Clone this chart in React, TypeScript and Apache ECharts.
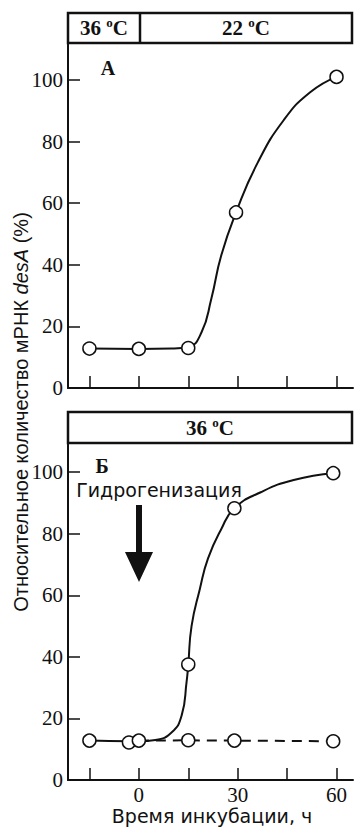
import React, { useEffect, useRef } from "react";
import * as echarts from "echarts";

// Tick values
const xTicks = [-15, 0, 15, 30, 45, 60];
const xLabelsBottom = [0, 30, 60];
const yTicks = [0, 20, 40, 60, 80, 100];

// Panel A (top): measured points and drawn curve
const topMarkX = [-15, 0, 15, 29.5, 60];
const topMarkY = [12.8, 12.7, 13, 57, 101];
const topCurveX = [-15, 0, 10, 15, 19, 22, 25, 29.5, 36, 44, 52, 60];
const topCurveY = [12.8, 12.7, 12.8, 13.3, 18, 29, 43, 57, 73, 87, 96, 101];

// Panel Б (bottom): solid series (hydrogenation) points and drawn curve
const botMarkX = [-15, -3, 0, 15, 29, 59];
const botMarkY = [12.8, 12.2, 12.8, 37.5, 88.3, 99.7];
const botCurveX = [-15, -3, 0, 5, 10, 13, 14.5, 15, 16, 18.5, 21, 25, 29, 37, 47, 59];
const botCurveY = [12.8, 12.6, 12.6, 13, 15.5, 21, 32, 37.5, 50, 62, 72, 81.5, 88.3, 93.5, 97.5, 99.7];

// Panel Б: dashed control series
const ctrlMarkX = [15, 29, 59];
const ctrlMarkY = [12.9, 12.8, 12.6];
const ctrlLineX = [0, 15, 29, 59];
const ctrlLineY = [12.8, 12.9, 12.8, 12.6];

const zip = (a: number[], b: number[]) => a.map((v, i) => [v, b[i]]);

export default function App() {
  const ref = useRef<HTMLDivElement>(null);
  useEffect(() => {
    if (!ref.current) return;
    const chart = echarts.init(ref.current, null, { renderer: "svg" });
    const serif = "Liberation Serif";
    const sans = "Liberation Sans";
    const wide = "DejaVu Sans";
    const xAxisBase = (show: boolean, gi: number) => ({
      type: "value",
      gridIndex: gi,
      min: -21.5,
      max: 65,
      axisLine: { show: true, onZero: false, lineStyle: { color: "#111", width: 2 } },
      axisTick: { show: true, inside: true, length: 12, customValues: xTicks, lineStyle: { color: "#111", width: 1.5 } },
      axisLabel: show
        ? { show: true, customValues: xLabelsBottom, color: "#111", fontFamily: serif, fontSize: 21, margin: 4 }
        : { show: false },
      splitLine: { show: false },
    });
    const yAxisBase = (gi: number, max: number) => ({
      type: "value",
      gridIndex: gi,
      min: 0,
      max,
      axisLine: { show: true, onZero: false, lineStyle: { color: "#111", width: 2 } },
      axisTick: { show: true, inside: true, length: 12, customValues: yTicks, lineStyle: { color: "#111", width: 1.5 } },
      axisLabel: { show: true, customValues: yTicks, color: "#111", fontFamily: serif, fontSize: 21, margin: 5 },
      splitLine: { show: false },
    });
    const marker = {
      type: "scatter",
      symbol: "circle",
      symbolSize: 13,
      itemStyle: { color: "#fff", borderColor: "#111", borderWidth: 1.5, opacity: 1 },
      z: 5,
    };
    const hdrText = (x: number, y: number, t: string) => ({
      type: "text",
      x,
      y,
      style: {
        text: `{b|${t} }{s|o}{b|C}`,
        align: "center",
        verticalAlign: "middle",
        textAlign: "center",
        textVerticalAlign: "middle",
        rich: {
          b: { fontFamily: serif, fontWeight: "bold", fontSize: 21, fill: "#111", color: "#111", lineHeight: 24 },
          s: { fontFamily: serif, fontWeight: "bold", fontSize: 13, fill: "#111", color: "#111", verticalAlign: "top", lineHeight: 20 },
        },
      },
    });
    const curveStyle = { color: "#111", width: 2 };
    chart.setOption({
      animation: false,
      grid: [
        { left: 68, top: 43, width: 285, height: 345 },
        { left: 68, top: 443, width: 285, height: 337 },
      ],
      xAxis: [xAxisBase(false, 0), xAxisBase(true, 1)],
      yAxis: [yAxisBase(0, 112), yAxisBase(1, 109.5)],
      series: [
        {
          type: "line",
          xAxisIndex: 0,
          yAxisIndex: 0,
          data: zip(topCurveX, topCurveY),
          smooth: 0.5,
          showSymbol: false,
          lineStyle: curveStyle,
        },
        { ...marker, xAxisIndex: 0, yAxisIndex: 0, data: zip(topMarkX, topMarkY) },
        {
          type: "line",
          xAxisIndex: 1,
          yAxisIndex: 1,
          data: zip(botCurveX, botCurveY),
          smooth: 0.5,
          showSymbol: false,
          lineStyle: curveStyle,
        },
        {
          type: "line",
          xAxisIndex: 1,
          yAxisIndex: 1,
          data: zip(ctrlLineX, ctrlLineY),
          showSymbol: false,
          lineStyle: { color: "#111", width: 2, type: [10, 7] },
        },
        { ...marker, xAxisIndex: 1, yAxisIndex: 1, data: zip(botMarkX, botMarkY) },
        { ...marker, xAxisIndex: 1, yAxisIndex: 1, data: zip(ctrlMarkX, ctrlMarkY) },
      ],
      graphic: [
        // top header
        { type: "rect", shape: { x: 68, y: 13, width: 284, height: 30 }, style: { fill: "#fff", stroke: "#111", lineWidth: 2.5 } },
        { type: "line", shape: { x1: 140, y1: 13, x2: 140, y2: 43 }, style: { stroke: "#111", lineWidth: 2.5 } },
        hdrText(104, 28, "36"),
        hdrText(246, 28, "22"),
        // bottom header
        { type: "rect", shape: { x: 68, y: 412, width: 284, height: 31 }, style: { fill: "#fff", stroke: "#111", lineWidth: 2.5 } },
        hdrText(210, 428, "36"),
        // panel letters
        { type: "text", x: 108, y: 68, style: { text: "A", font: `bold 20px ${serif}`, fill: "#111", align: "center", verticalAlign: "middle", textAlign: "center", textVerticalAlign: "middle" } },
        { type: "text", x: 102, y: 466, style: { text: "Б", font: `bold 20px ${serif}`, fill: "#111", align: "center", verticalAlign: "middle", textAlign: "center", textVerticalAlign: "middle" } },
        // hydrogenation label and arrow
        { type: "text", x: 159, y: 490, style: { text: "Гидрогенизация", font: `19px '${wide}'`, fill: "#111", align: "center", verticalAlign: "middle", textAlign: "center", textVerticalAlign: "middle" } },
        { type: "rect", shape: { x: 136, y: 505, width: 6, height: 48 }, style: { fill: "#111" } },
        { type: "polygon", shape: { points: [[125, 552], [153, 552], [139, 582]] }, style: { fill: "#111" } },
        // axis titles
        {
          type: "text",
          x: 21,
          y: 412,
          rotation: Math.PI / 2,
          style: {
            text: "{n|Относительное количество мРНК }{i|desA}{n| (%)}",
            align: "center",
            verticalAlign: "middle",
            textAlign: "center",
            textVerticalAlign: "middle",
            rich: {
              n: { fontFamily: sans, fontSize: 20, fill: "#111", color: "#111" },
              i: { fontFamily: sans, fontSize: 20, fontStyle: "italic", fill: "#111", color: "#111" },
            },
          },
        },
        { type: "text", x: 212, y: 816, style: { text: "Время инкубации, ч", font: `19px '${wide}'`, fill: "#111", align: "center", verticalAlign: "middle", textAlign: "center", textVerticalAlign: "middle" } },
      ],
    });
    return () => chart.dispose();
  }, []);
  return <div ref={ref} style={{ position: "absolute", left: 0, top: 0, width: 354, height: 827 }} />;
}
